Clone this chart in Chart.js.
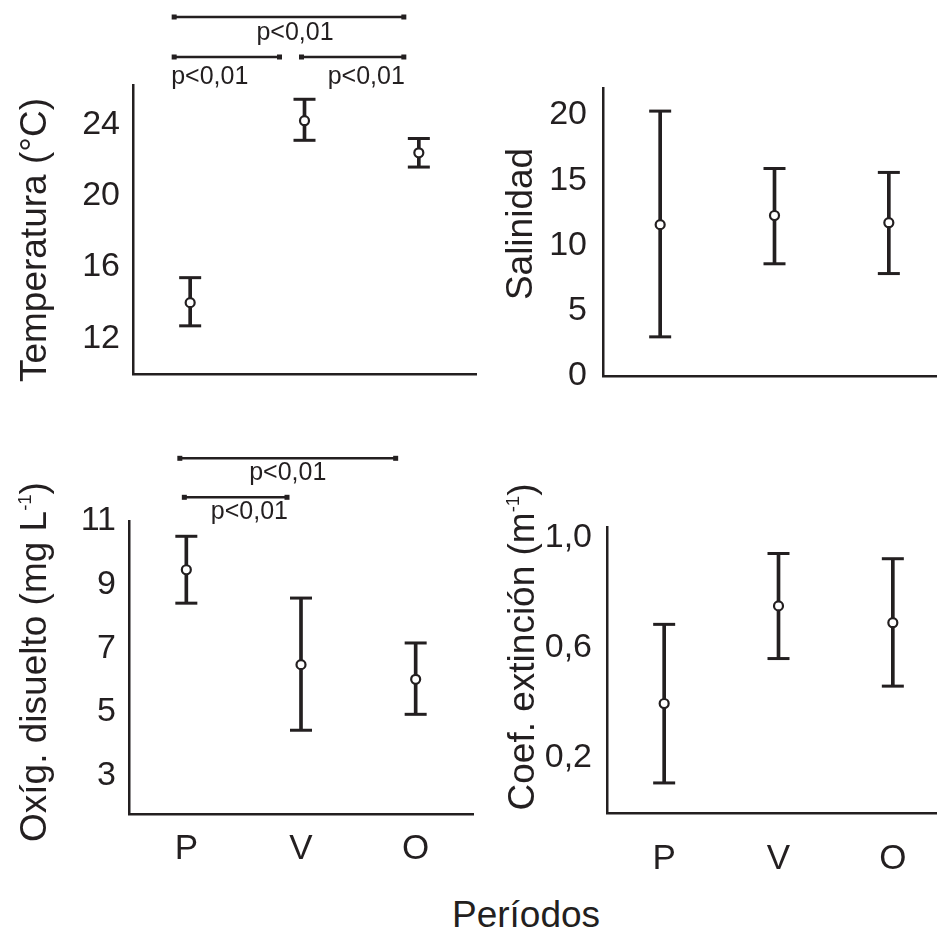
<!DOCTYPE html>
<html lang="es">
<head>
<meta charset="utf-8">
<title>Períodos</title>
<script src="https://cdn.jsdelivr.net/npm/chart.js@4.4.1/dist/chart.umd.min.js"></script>
<style>
    html, body { margin: 0; padding: 0; background: #fff; }
    body {
        width: 937px; height: 935px; position: relative; overflow: hidden;
        font-family: "Liberation Sans", Arial, sans-serif; color: #231f20;
    }
    canvas { position: absolute; }
    .y-title {
        position: absolute; font-size: 37px; line-height: 1; white-space: nowrap;
        transform: translate(-50%, -50%) rotate(-90deg);
    }
    .y-title sup { font-size: 0.5em; vertical-align: 0.8em; line-height: 0; }
    #x-title {
        position: absolute; left: 376px; width: 300px; top: 894px;
        font-size: 37px; line-height: 1.15; text-align: center;
    }
</style>
</head>
<body>
<canvas id="temp-chart" width="479" height="378" style="left:0px; top:0px;"></canvas>
<canvas id="sal-chart" width="480" height="402" style="left:470px; top:0px;"></canvas>
<canvas id="oxy-chart" width="476" height="444" style="left:0px; top:430px;"></canvas>
<canvas id="ext-chart" width="483" height="443" style="left:470px; top:430px;"></canvas>

<div class="y-title" style="left:33px; top:240px;">Temperatura (°C)</div>
<div class="y-title" style="left:519px; top:224px;">Salinidad</div>
<div class="y-title" style="left:33px; top:662px;">Oxíg. disuelto (mg L<sup>-1</sup>)</div>
<div class="y-title" style="left:521px; top:647px;">Coef. extinción (m<sup>-1</sup>)</div>
<div id="x-title">Períodos</div>

<script>
const periods = ["P", "V", "O"];

// Temperatura (°C)
const temp_mean = [14.0, 24.2, 22.4];
const temp_low = [12.7, 23.1, 21.6];
const temp_high = [15.4, 25.4, 23.2];
const temp_ticks = [12, 16, 20, 24];

// Salinidad
const sal_mean = [11.6, 12.3, 11.75];
const sal_low = [3.0, 8.6, 7.85];
const sal_high = [20.3, 15.9, 15.6];
const sal_ticks = [0, 5, 10, 15, 20];

// Oxígeno disuelto (mg L-1)
const oxy_mean = [9.47, 6.49, 6.03];
const oxy_low = [8.42, 4.43, 4.93];
const oxy_high = [10.52, 8.58, 7.17];
const oxy_ticks = [3, 5, 7, 9, 11];

// Coeficiente de extinción (m-1)
const ext_mean = [0.397, 0.751, 0.69];
const ext_low = [0.109, 0.56, 0.46];
const ext_high = [0.684, 0.941, 0.922];
const ext_ticks = [0.2, 0.6, 1.0];

// significance brackets (pairs of period indices)
const temp_pairs = [[0, 2], [0, 1], [1, 2]];
const temp_p_labels = ["p<0,01", "p<0,01", "p<0,01"];
const oxy_pairs = [[0, 2], [0, 1]];
const oxy_p_labels = ["p<0,01", "p<0,01"];

const ink = "#231f20";
const font_family = "'Liberation Sans', Arial, sans-serif";
Chart.defaults.font.family = font_family;

// draws the "p<0,01" brackets above the plot area
const sig_brackets = {
    id: "sigBrackets",
    afterDraw(chart, args, opts) {
        if (!opts.pairs) return;
        const ctx = chart.ctx;
        const x_scale = chart.scales.x;
        const top = chart.chartArea.top;
        ctx.save();
        ctx.strokeStyle = ink;
        ctx.fillStyle = ink;
        ctx.lineWidth = 2.5;
        ctx.font = "25px " + font_family;
        ctx.textBaseline = "middle";
        opts.pairs.forEach((pair, i) => {
            const st = opts.style[i];
            const x1 = x_scale.getPixelForValue(pair[0]) + st.shift[0];
            const x2 = x_scale.getPixelForValue(pair[1]) + st.shift[1];
            const y = top - st.rise;
            ctx.beginPath();
            ctx.moveTo(x1, y);
            ctx.lineTo(x2, y);
            ctx.stroke();
            ctx.fillRect(x1 - 2.5, y - 2.5, 5, 5);
            ctx.fillRect(x2 - 2.5, y - 2.5, 5, 5);
            let tx = (x1 + x2) / 2 + (st.nudge || 0);
            if (st.align === "left") tx = x1 - 3;
            if (st.align === "right") tx = x2 + 1;
            ctx.textAlign = st.align;
            ctx.fillText(opts.labels[i], tx, y + st.drop);
        });
        ctx.restore();
    }
};

function build_config(mean, low, high, ticks, opt) {
    const whiskers = low.map((v, i) => [v, high[i]]);
    return {
        type: "bar",
        data: {
            labels: periods,
            datasets: [
                {
                    type: "line",
                    data: mean,
                    showLine: false,
                    pointStyle: "circle",
                    pointRadius: 4.5,
                    pointBackgroundColor: "#fff",
                    pointBorderColor: ink,
                    pointBorderWidth: 2.2,
                    order: 0
                },
                {
                    type: "line",
                    data: high,
                    showLine: false,
                    pointStyle: "line",
                    pointRadius: 11,
                    pointBorderColor: ink,
                    pointBorderWidth: 3,
                    order: 1
                },
                {
                    type: "line",
                    data: low,
                    showLine: false,
                    pointStyle: "line",
                    pointRadius: 11,
                    pointBorderColor: ink,
                    pointBorderWidth: 3,
                    order: 1
                },
                {
                    type: "bar",
                    data: whiskers,
                    barThickness: 3,
                    backgroundColor: ink,
                    borderWidth: 0,
                    order: 2
                }
            ]
        },
        options: {
            responsive: false,
            animation: false,
            events: [],
            layout: { padding: opt.padding, autoPadding: false },
            plugins: {
                legend: { display: false },
                tooltip: { enabled: false },
                sigBrackets: opt.brackets || {}
            },
            scales: {
                x: {
                    offset: true,
                    grid: { display: false, drawTicks: false },
                    border: { display: true, color: ink, width: 2.5 },
                    ticks: {
                        display: opt.show_x,
                        color: ink,
                        font: { size: 35 },
                        padding: opt.x_pad || 0,
                        maxRotation: 0
                    },
                    afterFit: (s) => {
                        s.height = opt.x_height;
                        s.paddingLeft = 0;
                        s.paddingRight = 0;
                    }
                },
                y: {
                    min: opt.min,
                    max: opt.max,
                    grid: { display: false, drawTicks: false },
                    border: { display: true, color: ink, width: 2.5 },
                    ticks: {
                        color: ink,
                        font: { size: 34 },
                        padding: opt.y_pad,
                        callback: opt.format || ((v) => v)
                    },
                    afterBuildTicks: (s) => { s.ticks = ticks.map((v) => ({ value: v })); },
                    afterFit: (s) => {
                        s.width = opt.y_width;
                        s.paddingTop = 0;
                        s.paddingBottom = 0;
                    }
                }
            }
        },
        plugins: [sig_brackets]
    };
}

// Temperatura
new Chart(document.getElementById("temp-chart"), build_config(temp_mean, temp_low, temp_high, temp_ticks, {
    min: 10, max: 26.2,
    padding: { top: 85, right: 3, bottom: 4, left: 0 },
    y_width: 133, x_height: 0, y_pad: 13, show_x: false,
    brackets: {
        pairs: temp_pairs,
        labels: temp_p_labels,
        style: [
            { shift: [-16, -15], rise: 68, align: "center", drop: 16, nudge: 6 },
            { shift: [-16, -25], rise: 28, align: "left", drop: 20 },
            { shift: [-3, -15], rise: 28, align: "right", drop: 20 }
        ]
    }
}));

// Salinidad
new Chart(document.getElementById("sal-chart"), build_config(sal_mean, sal_low, sal_high, sal_ticks, {
    min: 0, max: 22.07,
    padding: { top: 88, right: 4, bottom: 26, left: 0 },
    y_width: 133, x_height: 0, y_pad: 16, show_x: false
}));

// Oxígeno disuelto
new Chart(document.getElementById("oxy-chart"), build_config(oxy_mean, oxy_low, oxy_high, oxy_ticks, {
    min: 1.8, max: 11,
    padding: { top: 91, right: 3, bottom: 0, left: 0 },
    y_width: 129, x_height: 60, x_pad: 14, y_pad: 13, show_x: true,
    brackets: {
        pairs: oxy_pairs,
        labels: oxy_p_labels,
        style: [
            { shift: [-6.5, -20], rise: 62.7, align: "center", drop: 15 },
            { shift: [-2, -14], rise: 23.7, align: "right", drop: 14.5 }
        ]
    }
}));

// Coeficiente de extinción
new Chart(document.getElementById("ext-chart"), build_config(ext_mean, ext_low, ext_high, ext_ticks, {
    min: 0, max: 1.037,
    padding: { top: 97, right: 3, bottom: 0, left: 0 },
    y_width: 137, x_height: 60, x_pad: 25, y_pad: 15, show_x: true,
    format: (v) => v.toFixed(1).replace(".", ",")
}));
</script>
</body>
</html>
